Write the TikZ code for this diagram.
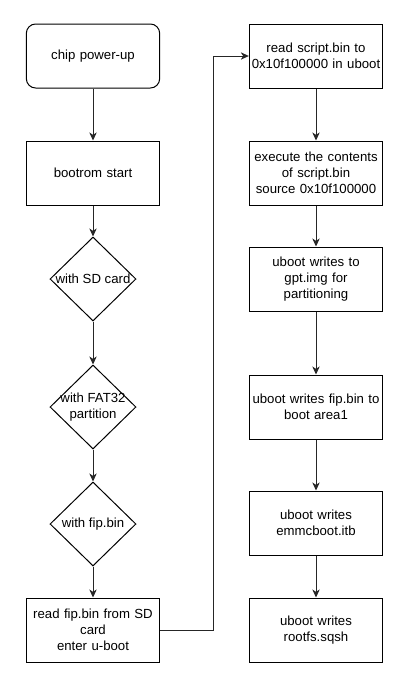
\documentclass[tikz,border=0pt]{standalone}
\usepackage{fontspec}
\setmainfont{Liberation Sans}
\usetikzlibrary{shapes.geometric,arrows.meta}
\begin{document}
\begin{tikzpicture}[x=0.75pt,y=-0.75pt,
  every node/.style={font=\fontsize{9.9}{11.9}\selectfont, text=black},
  box/.style={draw=black, line width=0.75pt, rectangle, minimum width=96pt, minimum height=48pt, inner sep=0pt, text width=100pt, align=center},
  rbox/.style={box, rounded corners=7pt},
  dbox/.style={draw=black, line width=0.75pt, diamond, minimum width=64.5pt, minimum height=63pt, inner sep=0pt},
  dtext/.style={align=center, inner sep=0pt},
  arr/.style={draw=black!85, line width=0.75pt, -{Stealth[length=6pt,width=5.5pt,inset=1.8pt]}}
]
\useasboundingbox (0,0) rectangle (400,686);
\fill[white] (0,0) rectangle (400,686);

\node[rbox] (chip) at (93,56) {chip power-up};
\node[box] (boot) at (93,173) {bootrom start};
\node[dbox] (d1) at (93,279) {};
\node[dtext] (t1) at (93,279) {with SD card};
\node[dbox] (d2) at (93,407) {};
\node[dtext] (t2) at (93,407) {with FAT32\\partition};
\node[dbox] (d3) at (93,524) {};
\node[dtext] (t3) at (93,524) {with fip.bin};
\node[box] (readfip) at (93,630) {read fip.bin from SD\\card\\enter u-boot};

\node[box] (r1) at (316,56) {read script.bin to\\0x10f100000 in uboot};
\node[box] (r2) at (316,173) {execute the contents\\of script.bin\\source 0x10f100000};
\node[box] (r3) at (316,279) {uboot writes to\\gpt.img for\\partitioning};
\node[box] (r4) at (316,407) {uboot writes fip.bin to\\boot area1};
\node[box] (r5) at (316,523) {uboot writes\\emmcboot.itb};
\node[box] (r6) at (316,630) {uboot writes\\rootfs.sqsh};

\draw[arr] (chip) -- (boot);
\draw[arr] (boot) -- (d1);
\draw[arr] (d1) -- (d2);
\draw[arr] (d2) -- (d3);
\draw[arr] (d3) -- (readfip);
\draw[arr] (readfip.east) -- ++(53,0) |- (r1.west);
\draw[arr] (r1) -- (r2);
\draw[arr] (r2) -- (r3);
\draw[arr] (r3) -- (r4);
\draw[arr] (r4) -- (r5);
\draw[arr] (r5) -- (r6);
\end{tikzpicture}
\end{document}
